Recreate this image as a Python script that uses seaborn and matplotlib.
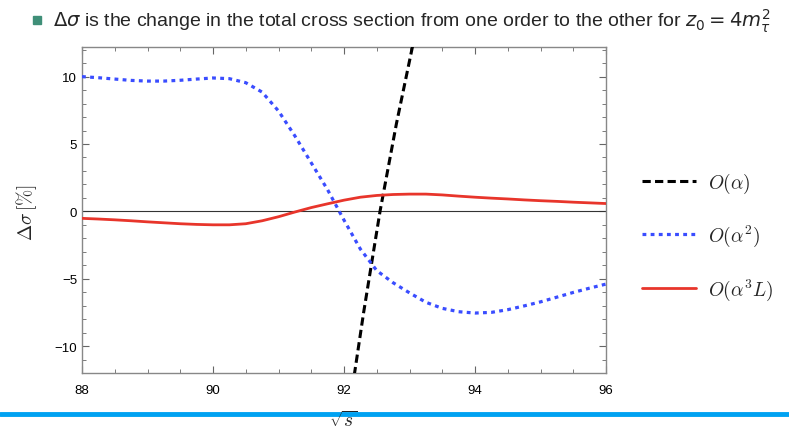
import numpy as np
import pandas as pd
import matplotlib
matplotlib.use("Agg")
import matplotlib.pyplot as plt
from matplotlib.lines import Line2D
from matplotlib.patches import Rectangle
from matplotlib.ticker import MultipleLocator
import seaborn as sns

# ---- data ----
x_grid = [88.0, 88.25, 88.5, 88.75, 89.0, 89.25, 89.5, 89.75, 90.0, 90.25, 90.5,
          90.75, 91.0, 91.25, 91.5, 91.75, 92.0, 92.25, 92.5, 92.75, 93.0, 93.25,
          93.5, 93.75, 94.0, 94.25, 94.5, 94.75, 95.0, 95.25, 95.5, 95.75, 96.0]
alpha2 = [10.0, 9.92, 9.82, 9.72, 9.67, 9.67, 9.73, 9.82, 9.9, 9.85, 9.55,
          8.85, 7.45, 5.6, 3.6, 1.6, -0.65, -2.8, -4.4, -5.3, -6.05, -6.75,
          -7.2, -7.45, -7.55, -7.5, -7.3, -7.02, -6.72, -6.37, -6.02, -5.7, -5.4]
alpha3L = [-0.52, -0.57, -0.63, -0.7, -0.78, -0.85, -0.92, -0.97, -1.0, -1.0, -0.92,
           -0.7, -0.4, -0.05, 0.28, 0.56, 0.83, 1.05, 1.18, 1.25, 1.28, 1.28,
           1.22, 1.13, 1.05, 0.98, 0.92, 0.85, 0.79, 0.74, 0.68, 0.63, 0.58]
x_alpha1 = [92.1, 92.3, 92.55, 92.8, 93.1]
alpha1 = [-14.0, -7.5, 0.0, 6.5, 13.5]

labels = [r"$O(\alpha)$", r"$O(\alpha^2)$", r"$O(\alpha^3 L)$"]
x_ticks = [88, 90, 92, 94, 96]
y_ticks = [-10, -5, 0, 5, 10]

sns.set_style("ticks")
plt.rcParams["font.family"] = ["Liberation Sans", "DejaVu Sans"]

W, H = 789, 431
fig = plt.figure(figsize=(W / 100, H / 100), dpi=100)
ax = fig.add_axes([82 / W, 1 - 374 / H, (606 - 82) / W, (374 - 48) / H])

df2 = pd.DataFrame({"x": x_grid, "y": alpha2})
df3 = pd.DataFrame({"x": x_grid, "y": alpha3L})
df1 = pd.DataFrame({"x": x_alpha1, "y": alpha1})

BLUE_DASH = [1.2, 1.35]
BLACK_DASH = [2.7, 1.4]

ax.axhline(0, color="#333333", lw=0.8, zorder=1)
sns.lineplot(data=df1, x="x", y="y", ax=ax, color="black", lw=2.2,
             sort=False, zorder=3).lines[-1].set_dashes(BLACK_DASH)
sns.lineplot(data=df2, x="x", y="y", ax=ax, color="#3a4dff", lw=2.3,
             zorder=3).lines[-1].set_dashes(BLUE_DASH)
sns.lineplot(data=df3, x="x", y="y", ax=ax, color="#e8352b", lw=2.0, zorder=4)

ax.set_xlim(88, 96)
ax.set_ylim(-12, 12.2)
ax.set_xticks(x_ticks)
ax.set_yticks(y_ticks)
ax.xaxis.set_minor_locator(MultipleLocator(0.5))
ax.yaxis.set_minor_locator(MultipleLocator(1))
ax.tick_params(which="both", direction="in", top=True, right=True, colors="#666666",
               labelcolor="black", labelsize=9.5)
ax.tick_params(which="major", length=5, width=0.8)
ax.tick_params(which="minor", length=3, width=0.6)
ax.tick_params(axis="x", pad=8)
for s in ax.spines.values():
    s.set_color("#888888")
    s.set_linewidth(1.0)
ax.set_xlabel("")
ax.set_ylabel("")

# axis labels
fig.text(27 / W, 1 - 213 / H, r"$\Delta\sigma\,[\%]$", rotation=90, ha="center", va="center",
         fontsize=14, math_fontfamily="cm")
fig.text(343 / W, 1 - 421 / H, r"$\sqrt{s}$", ha="center", va="center",
         fontsize=14, math_fontfamily="cm")

# legend
handles = [Line2D([], [], color="black", lw=2.2, dashes=BLACK_DASH),
           Line2D([], [], color="#3a4dff", lw=2.3, dashes=BLUE_DASH),
           Line2D([], [], color="#e8352b", lw=2.0)]
leg = fig.legend(handles, labels, loc="center left", bbox_to_anchor=(624 / W, 1 - 237 / H),
                 frameon=False, handlelength=2.8, labelspacing=1.45,
                 handletextpad=0.6, prop={"math_fontfamily": "cm", "size": 14})

# slide header
fig.patches.append(Rectangle((33 / W, 1 - 25 / H), 8 / W, 8 / H, transform=fig.transFigure,
                             color="#3f8f78", figure=fig))
fig.text(53 / W, 1 - 21 / H,
         r"$\Delta\sigma$ is the change in the total cross section from one order to the other for $z_0 = 4m_\tau^2$",
         ha="left", va="center", fontsize=14, math_fontfamily="dejavusans")

# blue bar at the bottom
fig.lines.append(Line2D([0, 1], [1 - 415 / H, 1 - 415 / H], transform=fig.transFigure,
                        color="#00a2f2", lw=3.5, figure=fig))

fig.savefig("out.png", dpi=100)
